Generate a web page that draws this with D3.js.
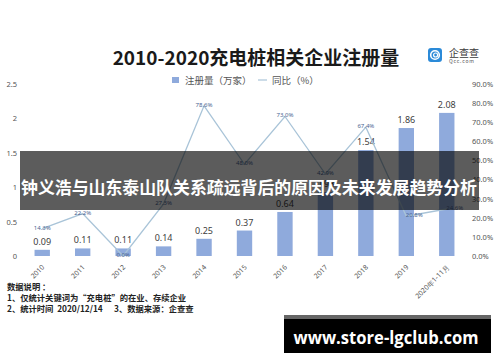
<!DOCTYPE html>
<html>
<head>
<meta charset="utf-8">
<script src="https://cdn.jsdelivr.net/npm/d3@7"></script>
<style>
  html, body { margin: 0; padding: 0; background: #fff; }
  svg { display: block; font-family: "Noto Sans CJK SC", "Noto Sans", sans-serif; }
</style>
</head>
<body>
<div id="chart"></div>
<script>
const years = ["2010", "2011", "2012", "2013", "2014", "2015", "2016", "2017", "2018", "2019", "2020年1-11月"];
const counts = [0.09, 0.11, 0.11, 0.14, 0.25, 0.37, 0.64, 0.93, 1.54, 1.86, 2.08];
const yoy = [14.3, 22.2, 0.0, 27.3, 78.6, 48.0, 73.0, 42.9, 67.4, 20.8, 24.6];
const leftTicks = [0, 0.5, 1, 1.5, 2, 2.5];
const rightTicks = [0, 10, 20, 30, 40, 50, 60, 70, 80, 90];
const notes = [
  "数据说明 ：",
  "1、仅统计关键词为“充电桩”的在业、存续企业",
  "2、统计时间  2020/12/14      3、数据来源：企查查"
];

const width = 500, height = 362;
const svg = d3.select("#chart").append("svg")
  .attr("width", width)
  .attr("height", height);

svg.append("rect").attr("width", width).attr("height", height).attr("fill", "#fff");

const x = d3.scaleBand().domain(years).range([22, 467]).paddingInner(0.62).paddingOuter(0.31);
const yL = d3.scaleLinear().domain([0, 2.5]).range([256, 84]);
const yR = d3.scaleLinear().domain([0, 90]).range([256, 84]);
const cx = d => x(d) + x.bandwidth() / 2;

// title
svg.append("text")
  .attr("x", 256).attr("y", 65)
  .attr("text-anchor", "middle")
  .attr("font-size", 19).attr("font-weight", "bold").attr("fill", "#1a1a1a")
  .text("2010-2020充电桩相关企业注册量");

// logo
const logo = svg.append("g").attr("transform", "translate(428,48)");
logo.append("rect").attr("width", 14).attr("height", 14).attr("rx", 3).attr("fill", "#2b8ad8");
logo.append("circle").attr("cx", 7).attr("cy", 7).attr("r", 4.3)
  .attr("fill", "none").attr("stroke", "#fff").attr("stroke-width", 1.6);
logo.append("circle").attr("cx", 7.6).attr("cy", 7).attr("r", 2)
  .attr("fill", "none").attr("stroke", "#fff").attr("stroke-width", 1.2);
logo.append("text").attr("x", 21).attr("y", 8.5)
  .attr("font-size", 10).attr("fill", "#3a3a3a").text("企查查");
logo.append("text").attr("x", 21).attr("y", 15)
  .attr("font-size", 5).attr("fill", "#555").attr("letter-spacing", 0.8).text("Qcc.com");

// legend
const legend = svg.append("g").attr("font-size", 9.5).attr("fill", "#555");
legend.append("rect").attr("x", 172).attr("y", 77).attr("width", 7).attr("height", 6).attr("fill", "#8faadc");
legend.append("text").attr("x", 185).attr("y", 83.5).text("注册量（万家）");
legend.append("line").attr("x1", 258).attr("x2", 267).attr("y1", 80).attr("y2", 80)
  .attr("stroke", "#a9c4d8").attr("stroke-width", 1.2);
legend.append("text").attr("x", 272).attr("y", 83.5).text("同比（%）");

// axes
const axL = svg.append("g").attr("transform", "translate(19,0)")
  .call(d3.axisLeft(yL).tickValues(leftTicks).tickSize(0).tickPadding(2).tickFormat(d3.format("")));
const axR = svg.append("g").attr("transform", "translate(471,0)")
  .call(d3.axisRight(yR).tickValues(rightTicks).tickSize(0).tickPadding(1).tickFormat(d => d.toFixed(1) + "%"));
[axL, axR].forEach(a => {
  a.select(".domain").remove();
  a.selectAll("text").attr("font-size", 7.5).attr("fill", "#555").attr("font-family", "Noto Sans, sans-serif");
});

const axX = svg.append("g").attr("transform", "translate(0,256)")
  .call(d3.axisBottom(x).tickSize(0).tickPadding(0));
axX.select(".domain").remove();
axX.selectAll("text")
  .attr("font-size", 7).attr("fill", "#555").attr("font-family", "Noto Sans, sans-serif")
  .attr("text-anchor", "end")
  .attr("transform", "translate(1,10) rotate(-45)")
  .attr("dy", "0.35em");

// bars
svg.append("g").selectAll("rect").data(counts).join("rect")
  .attr("x", (d, i) => x(years[i]))
  .attr("y", d => yL(d))
  .attr("width", x.bandwidth())
  .attr("height", d => yL(0) - yL(d))
  .attr("fill", "#8faadc");

svg.append("g").selectAll("text").data(counts).join("text")
  .attr("x", (d, i) => cx(years[i]))
  .attr("y", d => yL(d) - 5)
  .attr("text-anchor", "middle")
  .attr("font-size", 9).attr("fill", "#404040").attr("font-family", "Noto Sans, sans-serif")
  .text(d => d.toFixed(2));

// yoy line
const line = d3.line().x((d, i) => cx(years[i])).y(d => yR(d));
svg.append("path").datum(yoy)
  .attr("d", line)
  .attr("fill", "none")
  .attr("stroke", "#a9c4d8")
  .attr("stroke-width", 1.3);

svg.append("g").selectAll("text").data(yoy).join("text")
  .attr("x", (d, i) => cx(years[i]) + (i >= 9 ? 8 : 0))
  .attr("y", d => yR(d) + 1)
  .attr("text-anchor", "middle")
  .attr("font-size", 6).attr("fill", "#4a6491").attr("font-family", "Noto Sans, sans-serif")
  .text(d => d.toFixed(1) + "%");

// notes
svg.append("g").selectAll("text").data(notes).join("text")
  .attr("x", 7)
  .attr("y", (d, i) => 290 + i * 11)
  .attr("font-size", 8.3).attr("font-weight", "bold").attr("fill", "#222")
  .attr("xml:space", "preserve")
  .style("white-space", "pre")
  .text(d => d);

// headline banner
svg.append("rect").attr("x", 20).attr("y", 151).attr("width", 459).attr("height", 59)
  .attr("fill", "rgba(0,0,0,0.64)");
svg.append("text")
  .attr("x", 249).attr("y", 194)
  .attr("text-anchor", "middle")
  .attr("font-size", 17).attr("font-weight", "bold").attr("fill", "#fff")
  .attr("textLength", 456).attr("lengthAdjust", "spacingAndGlyphs")
  .text("钟义浩与山东泰山队关系疏远背后的原因及未来发展趋势分析");

// watermark
svg.append("rect").attr("x", 284).attr("y", 315).attr("width", 207).attr("height", 4).attr("fill", "#666");
svg.append("rect").attr("x", 284).attr("y", 319).attr("width", 207).attr("height", 34).attr("fill", "#000");
svg.append("text")
  .attr("x", 386).attr("y", 344)
  .attr("text-anchor", "middle")
  .attr("font-family", "Open Sans, sans-serif")
  .attr("font-size", 17).attr("font-weight", "bold").attr("fill", "#fff")
  .attr("textLength", 185).attr("lengthAdjust", "spacingAndGlyphs")
  .text("www.store-lgclub.com");
</script>
</body>
</html>
